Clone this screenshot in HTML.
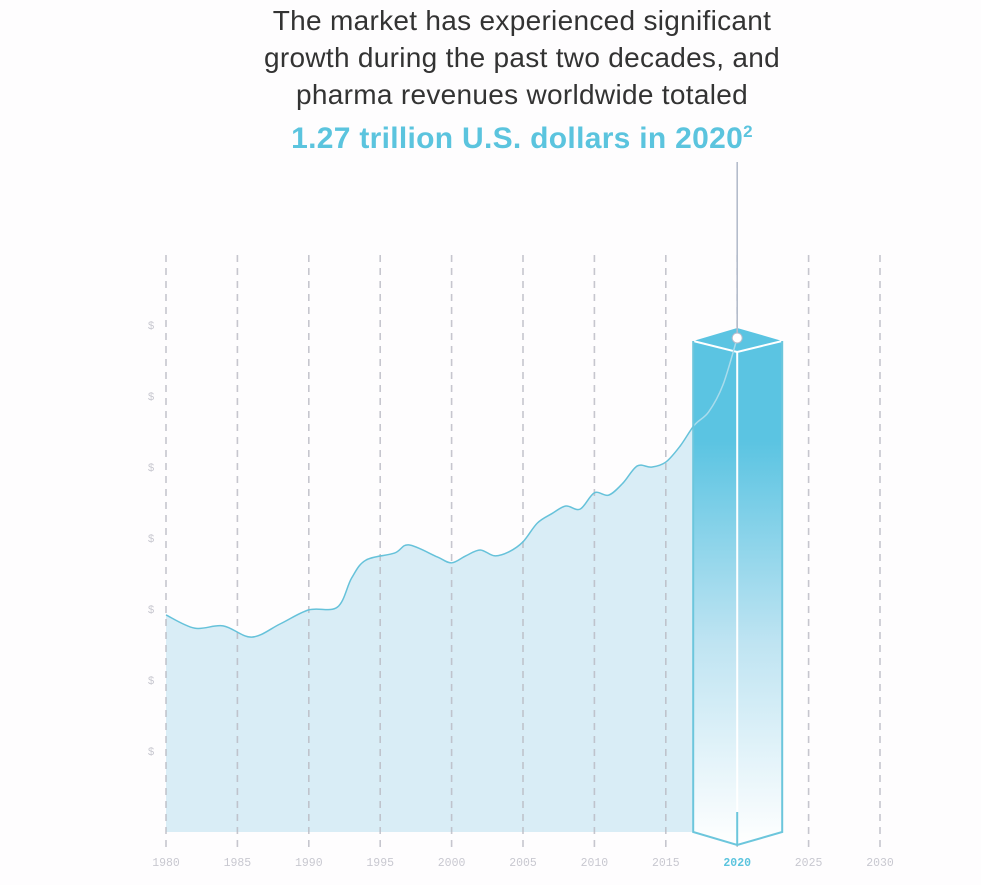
<!DOCTYPE html>
<html><head><meta charset="utf-8">
<style>
body{margin:0;width:981px;height:885px;background:#fefdfe;overflow:hidden;font-family:"Liberation Sans",sans-serif;}
#title{position:absolute;left:0;top:2px;width:1044px;text-align:center;color:#333;font-size:28px;line-height:37px;letter-spacing:0.3px;}
#title .hl{color:#5bc4de;font-weight:bold;font-size:30px;line-height:38px;}
#title sup{font-size:17px;}
svg{position:absolute;left:0;top:0;}
</style></head><body>
<div id="title">The market has experienced significant<br>growth during the past two decades, and<br>pharma revenues worldwide totaled<br><span class="hl">1.27 trillion U.S. dollars in 2020<sup>2</sup></span></div>
<svg id="chart" width="981" height="885"></svg>
<script>
const years=[1980,1982,1984,1986,1988,1990,1992,1993,1994,1996,1997,1999,2000,2001,2002,2003,2004,2005,2006,2007,2008,2009,2010,2011,2012,2013,2014,2015,2016,2017,2018,2019,2020];
const revenue=[558,524,530,501,535,571,578,653,699,717,738,707,692,710,725,710,720,746,794,818,838,830,872,866,897,941,938,951,992,1046,1080,1149,1270];
const tickYears=[1980,1985,1990,1995,2000,2005,2010,2015,2020,2025,2030];
const yTicks=[1,2,3,4,5,6,7];
const highlightYear=2020;
const areaEndYear=2017;
const NS="http://www.w3.org/2000/svg";
const svg=document.getElementById('chart');
const xs=y=>166+(y-1980)*14.28;
const ys=v=>832-v*0.389;
function mk(t,a,p){const e=document.createElementNS(NS,t);for(const k in a)e.setAttribute(k,a[k]);(p||svg).appendChild(e);return e;}
const defs=mk('defs',{});
defs.innerHTML='<linearGradient id="bg" x1="0" y1="0" x2="0" y2="1"><stop offset="0" stop-color="#5bc4e2"/><stop offset="0.2" stop-color="#5bc4e2"/><stop offset="0.6" stop-color="#bfe4f2"/><stop offset="1" stop-color="#ffffff"/></linearGradient><clipPath id="ac"><rect x="0" y="0" width="'+xs(areaEndYear)+'" height="885"/></clipPath><clipPath id="bc"><rect x="'+xs(areaEndYear)+'" y="0" width="200" height="885"/></clipPath>';
const pts=years.map((y,i)=>[xs(y),ys(revenue[i])]);
let d='M'+pts[0][0]+','+pts[0][1];
for(let i=0;i<pts.length-1;i++){
 const p0=pts[Math.max(0,i-1)],p1=pts[i],p2=pts[i+1],p3=pts[Math.min(pts.length-1,i+2)];
 d+=' C'+(p1[0]+(p2[0]-p0[0])/6)+','+(p1[1]+(p2[1]-p0[1])/6)+' '+(p2[0]-(p3[0]-p1[0])/6)+','+(p2[1]-(p3[1]-p1[1])/6)+' '+p2[0]+','+p2[1];
}
const area=mk('path',{d:d+' L'+pts[pts.length-1][0]+',832 L'+pts[0][0]+',832 Z',fill:'#d9edf6','clip-path':'url(#ac)'});


tickYears.forEach(t=>{
 const g=mk('line',{x1:xs(t),x2:xs(t),y1:255,y2:848,stroke:'#b8b8c2','stroke-opacity':0.8,'stroke-width':1.6,'stroke-dasharray':'7 6'});
 
 
 const l=mk('text',{x:xs(t),y:866,'text-anchor':'middle','font-family':'Liberation Mono, monospace','font-size':11.5,fill:t===highlightYear?'#5bc4de':'#c8c8d0','font-weight':t===highlightYear?'bold':'normal'});
 l.textContent=t;
 
 
});
yTicks.forEach((v,i)=>{
 const l=mk('text',{x:151,y:329+i*71,'text-anchor':'middle','font-size':11,fill:'#c8c8d0'});
 l.textContent='$';
 
 
});
const cx=xs(highlightYear),topY=ys(revenue[revenue.length-1]);
const bar=mk('g',{});


mk('rect',{x:cx-44,y:topY,width:89,height:845-topY,fill:'#fefdfe'},bar);
mk('polygon',{points:`${cx-44},${topY+3} ${cx},${topY+14} ${cx},845 ${cx-44},832`,fill:'url(#bg)'},bar);
mk('polygon',{points:`${cx},${topY+14} ${cx+45},${topY+3} ${cx+45},832 ${cx},845`,fill:'url(#bg)'},bar);
mk('polygon',{points:`${cx-44},${topY+3} ${cx},${topY-10} ${cx+45},${topY+3} ${cx},${topY+14}`,fill:'#5bc4e2'},bar);
mk('polyline',{points:`${cx-44},${topY+3} ${cx},${topY+14} ${cx+45},${topY+3}`,fill:'none',stroke:'#fff','stroke-width':2},bar);
mk('line',{x1:cx,x2:cx,y1:topY+14,y2:840,stroke:'#fff','stroke-width':2},bar);
mk('path',{d:`M${cx-44},${topY+3} V832 L${cx},845 L${cx+45},832 V${topY+3}`,fill:'none',stroke:'#6cc6dc','stroke-width':2},bar);
mk('line',{x1:cx,x2:cx,y1:812,y2:845,stroke:'#6cc6dc','stroke-width':2},bar);
const line=mk('path',{d:d,fill:'none',stroke:'#66c2da','stroke-width':1.5,'clip-path':'url(#ac)'});


const line2=mk('path',{d:d,fill:'none',stroke:'#a9dcec','stroke-width':1.5,'clip-path':'url(#bc)'});


const pin=mk('line',{x1:cx,x2:cx,y1:162,y2:topY,stroke:'#b4bccb','stroke-width':1.6});


const dot=mk('circle',{cx:cx,cy:topY,r:5,fill:'#fff',stroke:'#b4bccb','stroke-width':1});


</script>
</body></html>
